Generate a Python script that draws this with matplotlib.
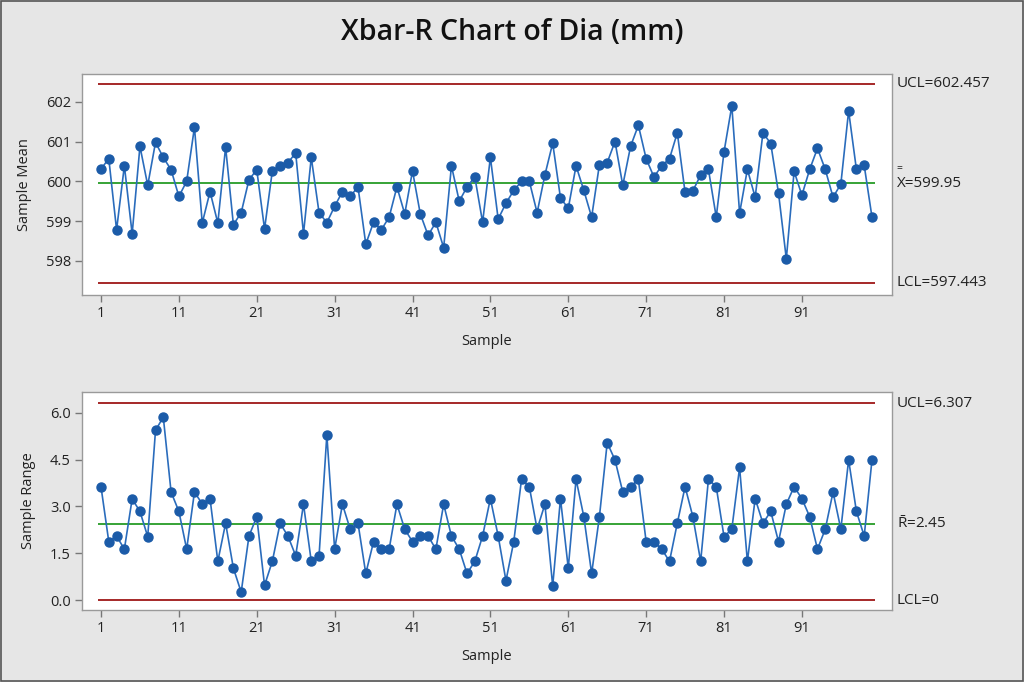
import matplotlib
matplotlib.use("Agg")
import matplotlib.pyplot as plt
import matplotlib.transforms as mtransforms
from matplotlib.patches import Rectangle

# -------------------------------
# Data
# -------------------------------
sample_mean = [
    600.31, 600.57, 598.78, 600.39, 598.68, 600.88, 599.90, 600.98, 600.60, 600.29,
    599.62, 600.00, 601.36, 598.95, 599.74, 598.95, 600.86, 598.91, 599.21, 600.04,
    600.29, 598.80, 600.26, 600.39, 600.47, 600.71, 598.68, 600.60, 599.21, 598.96,
    599.37, 599.74, 599.62, 599.86, 598.42, 598.97, 598.78, 599.10, 599.86, 599.18,
    600.26, 599.18, 598.64, 598.97, 598.33, 600.39, 599.50, 599.86, 600.11, 598.97,
    600.60, 599.05, 599.45, 599.77, 600.00, 600.00, 599.21, 600.16, 600.96, 599.58,
    599.32, 600.39, 599.77, 599.10, 600.42, 600.47, 601.00, 599.90, 600.88, 601.41,
    600.57, 600.11, 600.39, 600.57, 601.22, 599.72, 599.76, 600.16, 600.30, 599.10,
    600.74, 601.90, 599.20, 600.30, 599.60, 601.22, 600.95, 599.70, 598.05, 600.25,
    599.65, 600.30, 600.83, 600.30, 599.60, 599.93, 601.77, 600.30, 600.40, 599.10,
]

sample_range = [
    3.63, 1.87, 2.05, 1.63, 3.24, 2.84, 2.03, 5.44, 5.86, 3.46,
    2.84, 1.63, 3.46, 3.08, 3.25, 1.24, 2.46, 1.02, 0.25, 2.05,
    2.67, 0.47, 1.24, 2.46, 2.05, 1.42, 3.07, 1.24, 1.42, 5.29,
    1.63, 3.07, 2.27, 2.46, 0.85, 1.87, 1.63, 1.63, 3.07, 2.27,
    1.87, 2.05, 2.05, 1.63, 3.07, 2.05, 1.63, 0.85, 1.24, 2.05,
    3.25, 2.05, 0.62, 1.87, 3.87, 3.63, 2.27, 3.07, 0.45, 3.25,
    1.02, 3.87, 2.67, 0.85, 2.67, 5.04, 4.49, 3.46, 3.63, 3.87,
    1.87, 1.87, 1.63, 1.24, 2.46, 3.63, 2.67, 1.24, 3.87, 3.63,
    2.03, 2.27, 4.25, 1.24, 3.25, 2.46, 2.84, 1.87, 3.07, 3.63,
    3.25, 2.67, 1.63, 2.27, 3.46, 2.27, 4.49, 2.84, 2.05, 4.49,
]

samples = list(range(1, len(sample_mean) + 1))

xbar_ucl, xbar_cl, xbar_lcl = 602.457, 599.95, 597.443
r_ucl, r_cl, r_lcl = 6.307, 2.45, 0.0

xticks = [1, 11, 21, 31, 41, 51, 61, 71, 81, 91]
mean_ticks = [598, 599, 600, 601, 602]
range_ticks = [0.0, 1.5, 3.0, 4.5, 6.0]

# -------------------------------
# Style
# -------------------------------
plt.rcParams['font.family'] = ['Open Sans', 'DejaVu Sans']
plt.rcParams['mathtext.fontset'] = 'custom'
plt.rcParams['mathtext.rm'] = 'Open Sans'

BLUE = '#1b5ba8'
LINEBLUE = '#2a6cbc'
RED = '#a52828'
GREEN = '#36a336'
TXT = '#222222'
SPINE = '#9a9a9a'
FS = 10.5

fig = plt.figure(figsize=(10.24, 6.82), dpi=100, facecolor='#e6e6e6')
fig.patches.append(Rectangle((0.001, 0.001), 0.998, 0.997, transform=fig.transFigure,
                             fill=False, edgecolor='#555555', lw=1.2))

fig.text(0.5, 0.953, "Xbar-R Chart of Dia (mm)", ha='center', va='center',
         fontsize=20.5, fontweight='semibold', color='#111111')

ax1 = fig.add_axes([82 / 1024, 1 - 295 / 682, 810 / 1024, 221 / 682])
ax2 = fig.add_axes([82 / 1024, 1 - 610 / 682, 810 / 1024, 218 / 682])


def style_axis(ax, yticks, yfmt):
    ax.set_facecolor('white')
    for s in ax.spines.values():
        s.set_color(SPINE)
        s.set_linewidth(1.0)
    ax.set_xlim(-1.44, 102.57)
    ax.set_xticks(xticks)
    ax.set_yticks(yticks)
    ax.set_yticklabels([yfmt.format(v) for v in yticks])
    ax.tick_params(axis='both', direction='out', length=5, width=1,
                   color='#777777', labelsize=FS, labelcolor=TXT, pad=3)
    ax.set_xlabel("Sample", fontsize=FS, color=TXT, labelpad=9)


def right_label(ax, tr, y, txt):
    ax.text(1.006, y, txt, transform=tr, va='center', fontsize=FS + 0.5, color=TXT)


# ---- Xbar chart ----
ax1.plot(samples, sample_mean, color=LINEBLUE, lw=1.2, marker='o', ms=6.5,
         markerfacecolor=BLUE, markeredgecolor=BLUE, zorder=3)
ax1.hlines([xbar_ucl, xbar_lcl], 0.6, 100.4, color=RED, lw=1.4, zorder=2)
ax1.hlines(xbar_cl, 0.6, 100.4, color=GREEN, lw=1.4, zorder=2)
ax1.set_ylim(597.14, 602.70)
style_axis(ax1, mean_ticks, "{:.0f}")
ax1.set_ylabel("Sample Mean", fontsize=FS, color=TXT, labelpad=10)

tr1 = mtransforms.blended_transform_factory(ax1.transAxes, ax1.transData)
right_label(ax1, tr1, xbar_ucl, "UCL=602.457")
right_label(ax1, tr1, xbar_cl, "X=599.95")
# double bar over the X
ax1.text(1.0055, xbar_cl, "=", transform=mtransforms.offset_copy(tr1, fig=fig, y=10.5, units='points'),
         va='center', fontsize=7.5, color=TXT)
right_label(ax1, tr1, xbar_lcl, "LCL=597.443")

# ---- R chart ----
ax2.plot(samples, sample_range, color=LINEBLUE, lw=1.2, marker='o', ms=6.5,
         markerfacecolor=BLUE, markeredgecolor=BLUE, zorder=3)
ax2.hlines([r_ucl, r_lcl], 0.6, 100.4, color=RED, lw=1.4, zorder=2)
ax2.hlines(r_cl, 0.6, 100.4, color=GREEN, lw=1.4, zorder=2)
ax2.set_ylim(-0.32, 6.667)
style_axis(ax2, range_ticks, "{:.1f}")
ax2.set_ylabel("Sample Range", fontsize=FS, color=TXT, labelpad=10)

tr2 = mtransforms.blended_transform_factory(ax2.transAxes, ax2.transData)
right_label(ax2, tr2, r_ucl, "UCL=6.307")
right_label(ax2, tr2, r_cl, r"$\bar{\mathrm{R}}$=2.45")
right_label(ax2, tr2, r_lcl, "LCL=0")

fig.savefig("out.png", dpi=100, facecolor=fig.get_facecolor())
